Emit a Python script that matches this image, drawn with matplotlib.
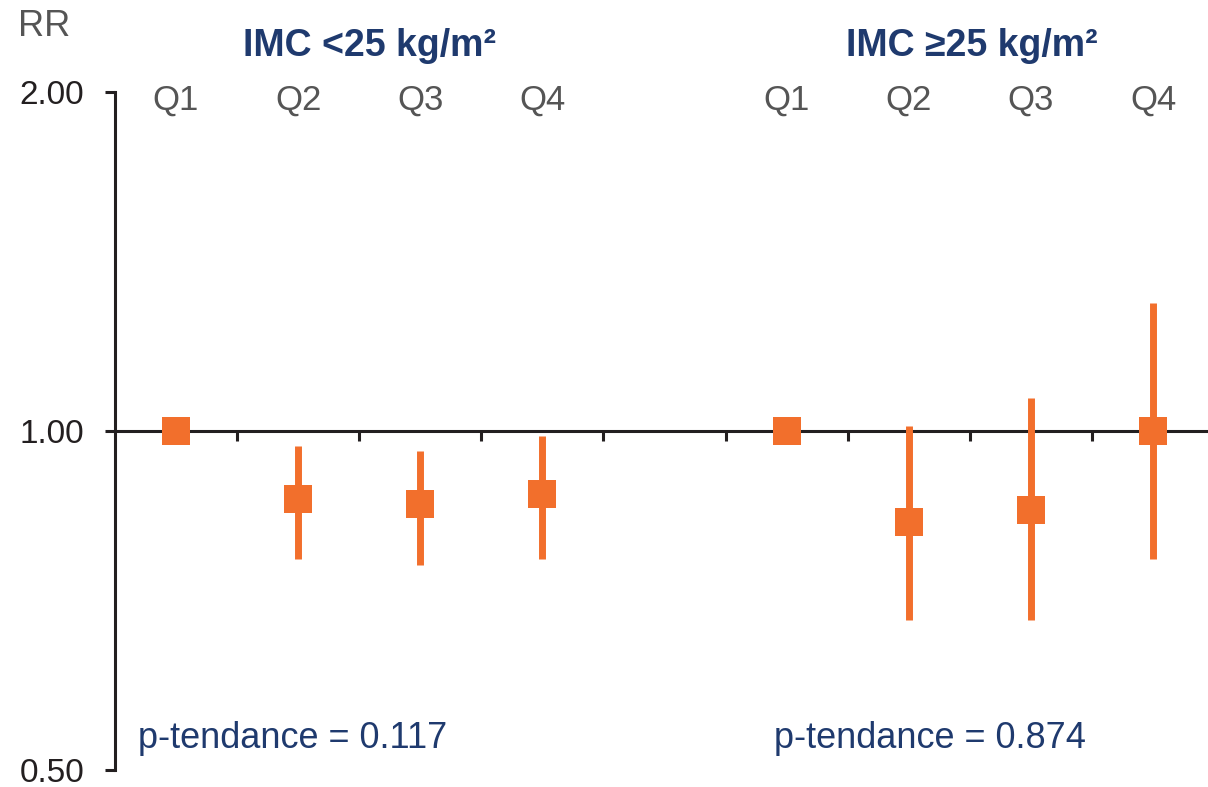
import matplotlib.pyplot as plt
from matplotlib.ticker import FixedLocator, NullLocator
import matplotlib.transforms as mtransforms

plt.rcParams["font.family"] = ["Liberation Sans", "DejaVu Sans"]

# data (relative risk with 95% CI)
groups = ["IMC <25 kg/m\u00b2", "IMC \u226525 kg/m\u00b2"]
quartiles = ["Q1", "Q2", "Q3", "Q4"]
rr_low_bmi = [1.00, 0.870, 0.861, 0.880]
ci_lo_low_bmi = [1.00, 0.769, 0.760, 0.769]
ci_hi_low_bmi = [1.00, 0.970, 0.959, 0.990]
rr_high_bmi = [1.00, 0.830, 0.850, 1.00]
ci_lo_high_bmi = [1.00, 0.679, 0.679, 0.770]
ci_hi_high_bmi = [1.00, 1.010, 1.070, 1.300]
p_trend = ["0.117", "0.874"]
y_ticks = [0.5, 1.0, 2.0]
y_ticklabels = ["0.50", "1.00", "2.00"]

ORANGE = "#F26F2C"
NAVY = "#1F3A6E"
GREY = "#555555"
BLACK = "#231F20"

fig = plt.figure(figsize=(12.08, 7.87), dpi=100)
ax = fig.add_axes([115 / 1208, 17 / 787, 1093 / 1208, 678 / 787])

offsets = [0, 5]
series = [
    (rr_low_bmi, ci_lo_low_bmi, ci_hi_low_bmi),
    (rr_high_bmi, ci_lo_high_bmi, ci_hi_high_bmi),
]
for off, (rr, lo, hi) in zip(offsets, series):
    xs = [off + i for i in range(len(rr))]
    yerr = [[r - l for r, l in zip(rr, lo)], [h - r for r, h in zip(rr, hi)]]
    ax.errorbar(xs, rr, yerr=yerr, fmt="none", ecolor=ORANGE,
                elinewidth=5, capsize=0, zorder=3)
    ax.plot(xs, rr, ls="none", marker="s", ms=20, color=ORANGE,
            mew=0, zorder=4)

ax.axhline(1.0, color=BLACK, lw=2.2, zorder=2)

ax.set_yscale("log")
ax.set_ylim(0.5, 2.0)
ax.set_xlim(-0.5, 8.45)
ax.yaxis.set_major_locator(FixedLocator(y_ticks))
ax.yaxis.set_minor_locator(NullLocator())
ax.set_yticklabels(y_ticklabels)
ax.tick_params(axis="y", direction="out", length=7, width=2.2,
               color=BLACK, labelsize=24, pad=15, labelcolor=BLACK)

ax.set_xticks([])
for spine in ["top", "right", "bottom"]:
    ax.spines[spine].set_visible(False)
ax.spines["left"].set_linewidth(2.2)
ax.spines["left"].set_color(BLACK)

# small downward ticks on the 1.00 line between quartiles
tick_x = [i + 0.5 for i in range(8)]
ax.vlines(tick_x, 0.98, 1.0, color=BLACK, lw=2.2, zorder=2)

trans = mtransforms.blended_transform_factory(ax.transData, ax.transAxes)
for off, title, tx in zip(offsets, groups, [1.58, 6.52]):
    for i, q in enumerate(quartiles):
        ax.text(off + i, 0.988, q, transform=trans, ha="center", va="center",
                fontsize=25, color=GREY)
    ax.text(tx, 1.068, title, transform=trans, ha="center",
            va="center", fontsize=27, fontweight="bold", color=NAVY)

for x0, p in zip([-0.31, 4.9], p_trend):
    ax.text(x0, 0.047, f"p-tendance = {p}", transform=trans,
            ha="left", va="center", fontsize=26, color=NAVY)

fig.text(18 / 1208, 1 - 26 / 787, "RR", ha="left", va="center",
         fontsize=26, color=GREY)

fig.savefig("out.png", dpi=100)
